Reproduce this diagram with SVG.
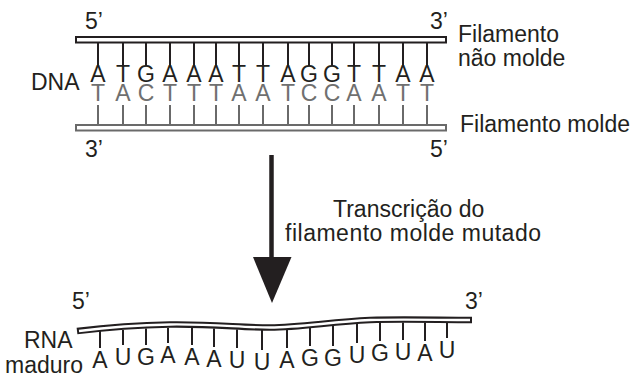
<svg xmlns="http://www.w3.org/2000/svg" width="639" height="378" viewBox="0 0 639 378">
<defs>
<style>
text{font-family:"Liberation Sans",Arial,Helvetica,sans-serif;fill:#231f20;font-size:23px}
.g{fill:#707070}
.b text{text-anchor:middle;font-size:23px}
.tk{stroke:#231f20;stroke-width:2}
.tkg{stroke:#6a6a6a;stroke-width:2}
</style>
</defs>
<rect width="639" height="378" fill="#fff"/>
<g id="dna">
<g id="top-strand">
<rect x="76" y="37" width="370" height="5.5" fill="#fff" stroke="#231f20" stroke-width="2"/>
<g class="tk">
<path d="M98 42v23.5M123 42v23.5M146 42v23.5M170 42v23.5M194 42v23.5M216 42v23.5M239 42v23.5M263 42v23.5M288 42v23.5M309 42v23.5M332 42v23.5M354 42v23.5M379 42v23.5M403 42v23.5M427 42v23.5"/>
</g>
<g class="b">
<text x="98" y="82">A</text><text x="123" y="82">T</text><text x="146" y="82">G</text><text x="170" y="82">A</text><text x="194" y="82">A</text><text x="216" y="82">A</text><text x="239" y="82">T</text><text x="263" y="82">T</text><text x="288" y="82">A</text><text x="309" y="82">G</text><text x="332" y="82">G</text><text x="354" y="82">T</text><text x="379" y="82">T</text><text x="403" y="82">A</text><text x="427" y="82">A</text>
</g>
</g>
<g id="bottom-strand">
<rect x="76" y="125" width="370" height="5.5" fill="#fff" stroke="#6a6a6a" stroke-width="2"/>
<g class="tkg">
<path d="M98 105v20M123 105v20M146 105v20M170 105v20M194 105v20M216 105v20M239 105v20M263 105v20M288 105v20M309 105v20M332 105v20M354 105v20M379 105v20M403 105v20M427 105v20"/>
</g>
<g class="b">
<text class="g" x="98" y="101">T</text><text class="g" x="123" y="101">A</text><text class="g" x="146" y="101">C</text><text class="g" x="170" y="101">T</text><text class="g" x="194" y="101">T</text><text class="g" x="216" y="101">T</text><text class="g" x="239" y="101">A</text><text class="g" x="263" y="101">A</text><text class="g" x="288" y="101">T</text><text class="g" x="309" y="101">C</text><text class="g" x="332" y="101">C</text><text class="g" x="354" y="101">A</text><text class="g" x="379" y="101">A</text><text class="g" x="403" y="101">T</text><text class="g" x="427" y="101">T</text>
</g>
</g>
<text x="85" y="29">5’</text>
<text x="430" y="29">3’</text>
<text x="85" y="157">3’</text>
<text x="430" y="157">5’</text>
<text x="31" y="90">DNA</text>
<text x="458" y="41.5">Filamento</text>
<text x="458" y="66">não molde</text>
<text x="460" y="132">Filamento molde</text>
</g>
<g id="connectors">
<line x1="271.5" y1="155" x2="271.5" y2="262" stroke="#231f20" stroke-width="4.5"/>
<polygon points="253,257 291.5,257 272,303" fill="#231f20"/>
</g>
<g id="label">
<text x="333" y="217">Transcrição do</text>
<text x="285" y="241" textLength="256">filamento molde mutado</text>
</g>
<g id="rna">
<path d="M77 331C110 327 140 325 170 324.5C215 324 240 327.5 270 327.5C300 327.5 330 322 370 320C400 319 440 320 472 320" fill="none" stroke="#231f20" stroke-width="6.5"/>
<path d="M79 331C110 327 140 325 170 324.5C215 324 240 327.5 270 327.5C300 327.5 330 322 370 320C400 319 440 320 470 320" fill="none" stroke="#fff" stroke-width="2.3"/>
<g class="tk">
<path d="M100 331v17M123 330v15M146 328.5v16.5M168 328v15M192 328v17M214 328.5v18.5M237 329.5v18.5M262 330v20M287 330v18M310 328v18M333 326v20M357 324v19M380 322.5v18.5M403 322.5v17.5M425 322.5v18.5M447 323v15"/>
</g>
<g class="b">
<text x="100" y="367.5">A</text><text x="123" y="365">U</text><text x="146" y="365">G</text><text x="168" y="362.5">A</text><text x="192" y="364.5">A</text><text x="214" y="366.5">A</text><text x="237" y="368">U</text><text x="262" y="370">U</text><text x="287" y="367.5">A</text><text x="310" y="365.5">G</text><text x="333" y="365.5">G</text><text x="357" y="362.5">U</text><text x="380" y="360.5">G</text><text x="403" y="359.5">U</text><text x="425" y="360.5">A</text><text x="447" y="357.5">U</text>
</g>
<text x="72" y="309">5’</text>
<text x="465" y="309">3’</text>
<text x="24" y="348">RNA</text>
<text x="5" y="373">maduro</text>
</g>
</svg>
